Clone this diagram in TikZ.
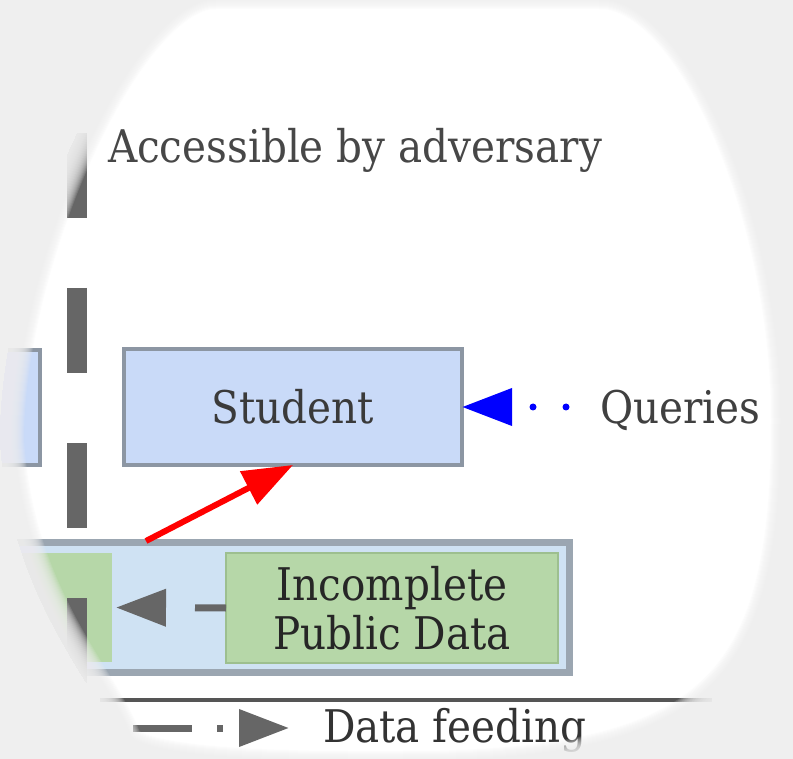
\documentclass[tikz,border=0pt]{standalone}
\usepackage{fontspec}
\setmainfont{DejaVu Serif}[FakeStretch=0.9]
\usetikzlibrary{arrows.meta}

\definecolor{vig}{HTML}{EFEFEF}
\definecolor{stufill}{HTML}{C9DAF8}
\definecolor{boxline}{HTML}{8C96A3}
\definecolor{feedfill}{HTML}{CFE2F3}
\definecolor{feedline}{HTML}{9BA6B1}
\definecolor{datafill}{HTML}{B6D7A8}
\definecolor{dataline}{HTML}{9DBF8F}
\definecolor{darkgrey}{HTML}{666666}
\definecolor{rulegrey}{HTML}{555555}
\definecolor{ink}{HTML}{3A3A3A}
\definecolor{qblue}{HTML}{0000FF}
\definecolor{fred}{HTML}{FF0000}

% outline of the round lens the figure is seen through
\newcommand\lensshape{(215,-15) -- (600,-15)
  .. controls (700,-15) and (795,215) .. (795,420)
  .. controls (795,690) and (720,775) .. (400,775)
  .. controls (230,776) and (128,768) .. (118,742)
  .. controls (95,680) and (10,600) .. (0,440)
  .. controls (0,260) and (120,-15) .. (215,-15) -- cycle}

\begin{document}
\begin{tikzpicture}[x=1pt,y=-1pt,
  lbl/.style={font=\fontsize{45}{49}\selectfont, inner sep=0pt, outer sep=0pt, text=ink},
  modelbox/.style={draw=boxline, line width=3.5pt, fill=stufill, inner sep=0pt, outer sep=0pt,
    font=\fontsize{45}{49}\selectfont, text=ink},
  feedbox/.style={draw=feedline, line width=7pt, fill=feedfill, inner sep=0pt, outer sep=0pt},
  databox/.style={fill=datafill, inner sep=0pt, outer sep=0pt, align=center,
    font=\fontsize{45}{49}\selectfont, text=black!85},
  advline/.style={darkgrey, line width=20pt, dash pattern=on 85pt off 70pt},
  queryarrow/.style={qblue, line width=7pt, line cap=round, dash pattern=on 0pt off 33pt,
    -{Triangle[length=50pt, width=36pt]}},
  trainarrow/.style={fred, line width=6pt, -{Triangle[length=50pt, width=36pt]}},
  feedarrow/.style={darkgrey, line width=7pt, -{Triangle[length=50pt, width=36pt]}},
]
\useasboundingbox (0,0) rectangle (793,759);
\fill[white] (0,0) rectangle (793,759);

% models
\node[modelbox, minimum width=70pt, minimum height=115pt] (teacher) at (5,407.5) {};
\node[modelbox, minimum width=338pt, minimum height=116pt] (student) at (293,407) {Student};

% data container
\node[feedbox, minimum width=596pt, minimum height=130pt] (feed) at (271.5,607.5) {};
\node[databox, minimum width=142pt, minimum height=109pt] (priv) at (41,607.5) {};
\node[databox, draw=dataline, line width=1.5pt, minimum width=332pt, minimum height=110pt]
  (pub) at (392,608) {Incomplete\\Public Data};

% connectors
\draw[feedarrow, dash pattern=on 31pt off 60pt, shorten >=4pt] (pub.west) -- (priv.east);
\coordinate (trainstart) at (146,541);
\draw[trainarrow] (trainstart) -- (student.south);
\coordinate (qstart) at (566,407);
\draw[queryarrow] (qstart) -- (student.east);

% boundary of what the adversary can reach
\coordinate (advtop) at (77,-22);
\coordinate (advbot) at (77,770);
\draw[advline] (advtop) -- (advbot);

% labels
\node[lbl, anchor=base west, text=black!72] (acc) at (108,163) {Accessible by adversary};
\node[lbl, anchor=base west, text=black!75] (qry) at (600,424) {Queries};

% legend
\coordinate (legl) at (100,700);
\coordinate (legr) at (712,700);
\draw[rulegrey, line width=3.5pt] (legl) -- (legr);
\coordinate (keyl) at (133,728);
\coordinate (keyr) at (289,728);
\draw[feedarrow, dash pattern=on 59pt off 25pt on 6pt off 100pt] (keyl) -- (keyr);
\node[lbl, anchor=base west, text=black!80] (feedlbl) at (323,742) {Data feeding};

% lens: hide everything outside it, then soften its rim
\fill[vig, even odd rule] (-20,-20) rectangle (813,779) \lensshape;
\foreach \w in {2,4,...,48} {
  \draw[vig, line width=\w pt, opacity=0.14] \lensshape;
}
\end{tikzpicture}
\end{document}
